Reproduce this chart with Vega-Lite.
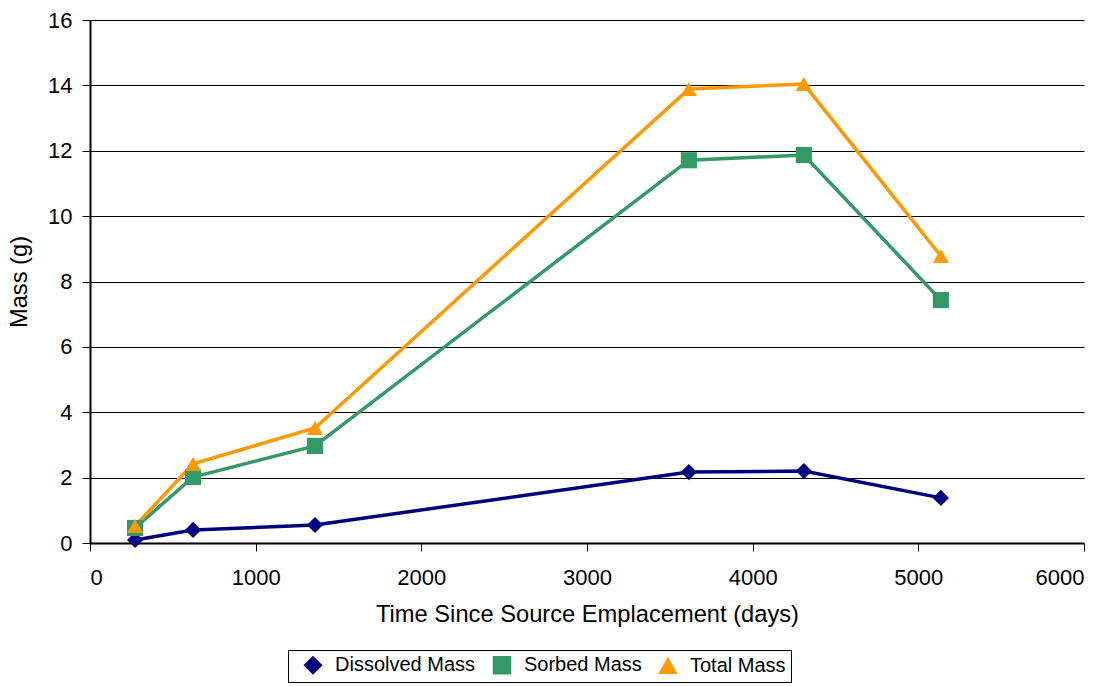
{
  "$schema": "https://vega.github.io/schema/vega-lite/v6.json",
  "width": 994,
  "height": 523,
  "autosize": {"type": "none"},
  "padding": {"left": 90, "top": 20, "right": 35, "bottom": 143},
  "background": "white",
  "config": {
    "font": "Liberation Sans",
    "view": {"stroke": null},
    "axis": {
      "labelFont": "Liberation Sans",
      "titleFont": "Liberation Sans",
      "labelFontSize": 22,
      "titleFontSize": 23.7,
      "titleFontWeight": "normal",
      "labelColor": "black",
      "titleColor": "black",
      "domainColor": "black",
      "domainWidth": 2,
      "tickColor": "black",
      "tickSize": 8
    },
    "legend": {
      "orient": "none",
      "legendX": 198,
      "legendY": 630,
      "direction": "horizontal",
      "labelFontSize": 20,
      "labelFont": "Liberation Sans",
      "labelColor": "black",
      "strokeColor": "black",
      "padding": 5,
      "symbolSize": 289,
      "symbolOffset": 10,
      "columnPadding": 6,
      "labelOffset": 12
    }
  },
  "data": {
    "values": [
      {"t": 272, "mass": 0.09, "series": "Dissolved Mass"},
      {"t": 622, "mass": 0.40, "series": "Dissolved Mass"},
      {"t": 1358, "mass": 0.55, "series": "Dissolved Mass"},
      {"t": 3615, "mass": 2.17, "series": "Dissolved Mass"},
      {"t": 4309, "mass": 2.20, "series": "Dissolved Mass"},
      {"t": 5136, "mass": 1.38, "series": "Dissolved Mass"},
      {"t": 272, "mass": 0.46, "series": "Sorbed Mass"},
      {"t": 622, "mass": 2.02, "series": "Sorbed Mass"},
      {"t": 1358, "mass": 2.97, "series": "Sorbed Mass"},
      {"t": 3615, "mass": 11.71, "series": "Sorbed Mass"},
      {"t": 4309, "mass": 11.87, "series": "Sorbed Mass"},
      {"t": 5136, "mass": 7.43, "series": "Sorbed Mass"},
      {"t": 272, "mass": 0.52, "series": "Total Mass"},
      {"t": 622, "mass": 2.42, "series": "Total Mass"},
      {"t": 1358, "mass": 3.52, "series": "Total Mass"},
      {"t": 3615, "mass": 13.89, "series": "Total Mass"},
      {"t": 4309, "mass": 14.04, "series": "Total Mass"},
      {"t": 5136, "mass": 8.78, "series": "Total Mass"}
    ]
  },
  "encoding": {
    "x": {
      "field": "t", "type": "quantitative",
      "scale": {"domain": [0, 6000], "nice": false},
      "axis": {"values": [0, 1000, 2000, 3000, 4000, 5000, 6000], "format": "d", "grid": false, "title": "Time Since Source Emplacement (days)", "titlePadding": 14, "labelPadding": 16}
    },
    "y": {
      "field": "mass", "type": "quantitative",
      "scale": {"domain": [0, 16], "nice": false},
      "axis": {"values": [0, 2, 4, 6, 8, 10, 12, 14, 16], "grid": true, "gridColor": "black", "gridWidth": 1, "gridOpacity": 1, "title": "Mass (g)", "titlePadding": 16, "labelPadding": 10}
    },
    "color": {
      "field": "series", "type": "nominal",
      "scale": {"domain": ["Dissolved Mass", "Sorbed Mass", "Total Mass"], "range": ["#000080", "#339966", "#FF9900"]},
      "legend": {"title": null}
    }
  },
  "layer": [
    {
      "mark": {"type": "line", "strokeWidth": 3.5}
    },
    {
      "mark": {"type": "point", "filled": true, "opacity": 1, "size": 260},
      "encoding": {
        "shape": {
          "field": "series", "type": "nominal",
          "scale": {"domain": ["Dissolved Mass", "Sorbed Mass", "Total Mass"], "range": ["diamond", "square", "triangle-up"]},
          "legend": {"title": null}
        }
      }
    }
  ]
}
